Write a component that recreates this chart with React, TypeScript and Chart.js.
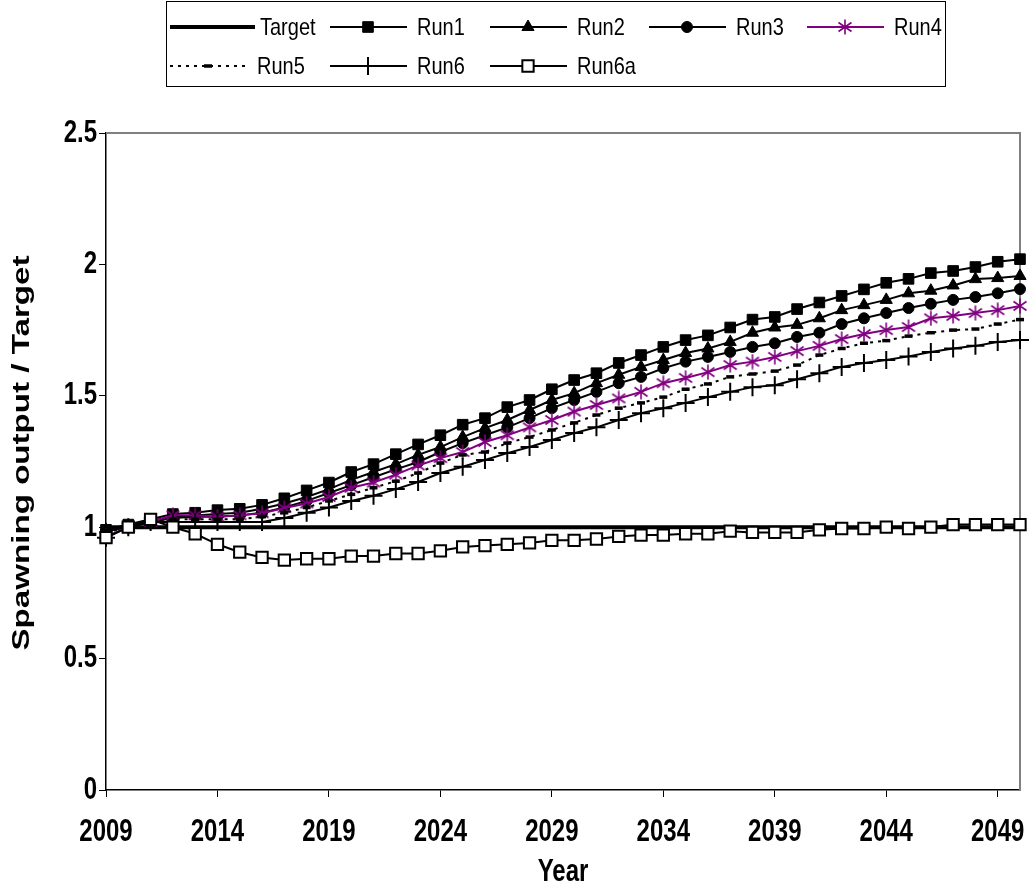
import React, { useEffect, useRef } from 'react';
import { Chart, registerables } from 'chart.js';
import { drawPoint } from 'chart.js/helpers';

Chart.register(...registerables);

const years = [
  2009, 2010, 2011, 2012, 2013, 2014, 2015, 2016, 2017, 2018, 2019, 2020, 2021, 2022,
  2023, 2024, 2025, 2026, 2027, 2028, 2029, 2030, 2031, 2032, 2033, 2034, 2035, 2036,
  2037, 2038, 2039, 2040, 2041, 2042, 2043, 2044, 2045, 2046, 2047, 2048, 2049, 2050,
];
const xTickYears = [2009, 2014, 2019, 2024, 2029, 2034, 2039, 2044, 2049];
const yTickValues = [0, 0.5, 1, 1.5, 2, 2.5];
const yTickLabels = ['0', '0.5', '1', '1.5', '2', '2.5'];

const target = [
  1, 1, 1, 1, 1, 1, 1, 1, 1, 1, 1, 1, 1, 1, 1, 1, 1, 1, 1, 1, 1,
  1, 1, 1, 1, 1, 1, 1, 1, 1, 1, 1, 1, 1, 1, 1, 1, 1, 1, 1, 1, 1,
];
const run1 = [
  0.99, 1.01, 1.03, 1.05, 1.055, 1.065, 1.07, 1.085, 1.11, 1.14, 1.17, 1.21, 1.24, 1.278,
  1.315, 1.35, 1.39, 1.415, 1.457, 1.484, 1.525, 1.56, 1.586, 1.625, 1.655, 1.686, 1.712, 1.73,
  1.76, 1.79, 1.8, 1.83, 1.855, 1.88, 1.905, 1.93, 1.945, 1.967, 1.975, 1.99, 2.01, 2.02,
];
const run2 = [
  0.99, 1.005, 1.025, 1.04, 1.045, 1.05, 1.055, 1.07, 1.09, 1.115, 1.145, 1.18, 1.21, 1.24,
  1.275, 1.305, 1.343, 1.377, 1.408, 1.446, 1.484, 1.51, 1.548, 1.58, 1.61, 1.636, 1.663, 1.68,
  1.705, 1.74, 1.76, 1.77, 1.795, 1.826, 1.845, 1.865, 1.89, 1.9, 1.92, 1.944, 1.948, 1.956,
];
const run3 = [
  0.985, 1.0, 1.02, 1.035, 1.04, 1.04, 1.045, 1.055, 1.075, 1.1, 1.13, 1.16, 1.19, 1.22,
  1.248, 1.286, 1.32, 1.35, 1.38, 1.415, 1.453, 1.484, 1.515, 1.548, 1.572, 1.605, 1.63, 1.648,
  1.667, 1.686, 1.7, 1.724, 1.74, 1.773, 1.795, 1.815, 1.834, 1.85, 1.865, 1.876, 1.89, 1.906,
];
const run4 = [
  0.965, 1.0, 1.02, 1.045, 1.045, 1.04, 1.045, 1.053, 1.073, 1.09, 1.115, 1.15, 1.17, 1.2,
  1.235, 1.263, 1.286, 1.324, 1.35, 1.38, 1.408, 1.44, 1.465, 1.49, 1.515, 1.548, 1.568, 1.59,
  1.617, 1.63, 1.648, 1.67, 1.69, 1.716, 1.735, 1.75, 1.762, 1.795, 1.804, 1.815, 1.826, 1.842,
];
const run5 = [
  0.98, 1.0, 1.02, 1.03, 1.03, 1.03, 1.03, 1.04, 1.055, 1.075, 1.1, 1.125, 1.15, 1.175,
  1.206, 1.244, 1.275, 1.286, 1.32, 1.343, 1.37, 1.397, 1.427, 1.453, 1.473, 1.495, 1.525, 1.545,
  1.572, 1.583, 1.594, 1.617, 1.655, 1.68, 1.7, 1.71, 1.727, 1.74, 1.75, 1.754, 1.773, 1.79,
];
const run6 = [
  0.96, 1.0, 1.02, 1.02, 1.02, 1.02, 1.02, 1.02, 1.035, 1.055, 1.075, 1.1, 1.12, 1.145,
  1.172, 1.206, 1.23, 1.256, 1.282, 1.305, 1.332, 1.358, 1.38, 1.408, 1.434, 1.453, 1.473, 1.495,
  1.515, 1.533, 1.54, 1.563, 1.586, 1.61, 1.625, 1.636, 1.65, 1.667, 1.68, 1.69, 1.705, 1.712,
];
const run6a = [
  0.96, 1.0, 1.03, 1.0, 0.975, 0.935, 0.905, 0.885, 0.875, 0.88, 0.88, 0.89, 0.89, 0.9,
  0.9, 0.91, 0.925, 0.93, 0.935, 0.94, 0.95, 0.95, 0.955, 0.965, 0.97, 0.97, 0.975, 0.975,
  0.985, 0.98, 0.98, 0.98, 0.99, 0.995, 0.995, 1.0, 0.995, 1.0, 1.01, 1.01, 1.01, 1.01,
];

const FONT = '"Liberation Sans", Arial, Helvetica, sans-serif';
const PURPLE = '#800080';
const STRETCH = 1.3;

function makeAsterisk(): HTMLCanvasElement {
  const c = document.createElement('canvas');
  c.width = 16;
  c.height = 16;
  const g = c.getContext('2d')!;
  g.strokeStyle = PURPLE;
  g.lineWidth = 1.6;
  g.beginPath();
  g.moveTo(8, 0.5);
  g.lineTo(8, 15.5);
  g.moveTo(1.5, 3.5);
  g.lineTo(14.5, 12.5);
  g.moveTo(1.5, 12.5);
  g.lineTo(14.5, 3.5);
  g.stroke();
  return c;
}

const pts = (vals: number[]) => vals.map((v, i) => ({ x: years[i], y: v }));

function stretchedText(
  ctx: CanvasRenderingContext2D,
  text: string,
  x: number,
  y: number,
  align: CanvasTextAlign,
  font: string,
  k: number,
  rotated = false,
) {
  ctx.save();
  ctx.translate(x, y);
  if (rotated) {
    ctx.rotate(-Math.PI / 2);
    ctx.scale(k, 1);
  } else {
    ctx.scale(1, k);
  }
  ctx.font = font;
  ctx.fillStyle = '#000';
  ctx.textAlign = align;
  ctx.textBaseline = 'middle';
  ctx.fillText(text, 0, 0);
  ctx.restore();
}

export default function App() {
  const ref = useRef<HTMLCanvasElement>(null);

  useEffect(() => {
    document.body.style.margin = '0';
    const asterisk = makeAsterisk();

    const datasets: any[] = [
      { label: 'Target', data: pts(target), borderColor: '#000', borderWidth: 4, pointRadius: 0, order: 7 },
      { label: 'Run1', data: pts(run1), borderColor: '#000', borderWidth: 2, pointStyle: 'rect', pointRadius: 7.5, pointBackgroundColor: '#000', pointBorderColor: '#000', pointBorderWidth: 1, order: 6 },
      { label: 'Run2', data: pts(run2), borderColor: '#000', borderWidth: 2, pointStyle: 'triangle', pointRadius: 7, pointBackgroundColor: '#000', pointBorderColor: '#000', pointBorderWidth: 1, order: 5 },
      { label: 'Run3', data: pts(run3), borderColor: '#000', borderWidth: 2, pointStyle: 'circle', pointRadius: 5.5, pointBackgroundColor: '#000', pointBorderColor: '#000', pointBorderWidth: 1, order: 4 },
      { label: 'Run4', data: pts(run4), borderColor: PURPLE, borderWidth: 2, pointStyle: asterisk, pointRadius: 8, order: 3 },
      { label: 'Run5', data: pts(run5), borderColor: '#000', borderWidth: 2, borderDash: [3, 5], pointStyle: 'line', pointRadius: 4, pointBorderColor: '#000', pointBorderWidth: 3.5, order: 2 },
      { label: 'Run6', data: pts(run6), borderColor: '#000', borderWidth: 2, pointStyle: 'cross', pointRadius: 9, pointBorderColor: '#000', pointBorderWidth: 2, order: 1 },
      { label: 'Run6a', data: pts(run6a), borderColor: '#000', borderWidth: 2, pointStyle: 'rect', pointRadius: 8, pointBackgroundColor: '#fff', pointBorderColor: '#000', pointBorderWidth: 2, order: 0 },
    ].map((d) => ({ ...d, clip: false }));

    const framePlugin = {
      id: 'frameAndLegend',
      beforeDatasetsDraw(chart: any) {
        const { ctx, chartArea } = chart;
        ctx.save();
        ctx.strokeStyle = '#808080';
        ctx.lineWidth = 2;
        ctx.beginPath();
        ctx.moveTo(chartArea.left, chartArea.top);
        ctx.lineTo(chartArea.right, chartArea.top);
        ctx.lineTo(chartArea.right, chartArea.bottom);
        ctx.stroke();
        ctx.restore();
      },
      afterDraw(chart: any) {
        const { ctx } = chart;
        const xs = chart.scales.x;
        const ys = chart.scales.y;
        const boldFont = `bold 24px ${FONT}`;

        // axis tick labels
        xTickYears.forEach((v) => {
          stretchedText(ctx, String(v), xs.getPixelForValue(v), 832, 'center', boldFont, STRETCH);
        });
        yTickValues.forEach((v, i) => {
          stretchedText(ctx, yTickLabels[i], 97, ys.getPixelForValue(v), 'right', boldFont, STRETCH);
        });
        // axis titles
        stretchedText(ctx, 'Year', (chart.chartArea.left + chart.chartArea.right) / 2, 872, 'center', boldFont, STRETCH);
        stretchedText(ctx, 'Spawning output / Target', 22, 453, 'center', boldFont, 1.38, true);

        // legend
        ctx.save();
        ctx.strokeStyle = '#000';
        ctx.lineWidth = 1;
        ctx.strokeRect(166.5, 1.5, 779, 85);
        const cols = [170, 330, 490, 649, 807];
        const rows = [27, 66];
        const layout = [
          [0, 0], [0, 1], [0, 2], [0, 3], [0, 4],
          [1, 0], [1, 1], [1, 2],
        ];
        chart.data.datasets.forEach((ds: any, i: number) => {
          const [r, c] = layout[i];
          const x0 = cols[c];
          const y = rows[r];
          const len = i === 0 ? 85 : 77;
          ctx.save();
          ctx.strokeStyle = ds.borderColor;
          ctx.lineWidth = ds.borderWidth;
          ctx.setLineDash(ds.borderDash || []);
          ctx.beginPath();
          ctx.moveTo(x0, y);
          ctx.lineTo(x0 + len, y);
          ctx.stroke();
          ctx.restore();
          if (ds.pointRadius > 0) {
            ctx.save();
            ctx.fillStyle = ds.pointBackgroundColor || ds.borderColor;
            ctx.strokeStyle = ds.pointBorderColor || ds.borderColor;
            ctx.lineWidth = ds.pointBorderWidth || 1;
            ctx.setLineDash([]);
            drawPoint(ctx, {
              pointStyle: ds.pointStyle,
              radius: ds.pointRadius,
              rotation: 0,
              borderWidth: ds.pointBorderWidth || 1,
            } as any, x0 + 38, y);
            ctx.restore();
          }
          stretchedText(ctx, ds.label, x0 + (i === 0 ? 90 : 87), y + 1, 'left', `20px ${FONT}`, 1.2);
        });
        ctx.restore();
      },
    };

    const chart = new Chart(ref.current!, {
      type: 'line',
      data: { datasets },
      plugins: [framePlugin],
      options: {
        animation: false,
        responsive: false,
        devicePixelRatio: 1,
        layout: { padding: { top: 133, right: 12, left: 0, bottom: 0 } },
        plugins: { legend: { display: false }, tooltip: { enabled: false } },
        elements: { line: { tension: 0 } },
        scales: {
          x: {
            type: 'linear',
            min: 2009,
            max: 2050,
            afterBuildTicks: (s: any) => {
              s.ticks = xTickYears.map((v) => ({ value: v }));
            },
            afterFit: (s: any) => {
              s.height = 98;
              s.paddingLeft = 0;
              s.paddingRight = 0;
            },
            grid: { drawOnChartArea: false, drawTicks: true, tickLength: 7, color: '#000', lineWidth: 1 },
            border: { display: true, color: '#000', width: 1.5 },
            ticks: { display: false, autoSkip: false, maxRotation: 0 },
            title: { display: false },
          },
          y: {
            min: 0,
            max: 2.5,
            afterBuildTicks: (s: any) => {
              s.ticks = yTickValues.map((v) => ({ value: v }));
            },
            afterFit: (s: any) => {
              s.width = 106;
              s.paddingTop = 0;
              s.paddingBottom = 0;
            },
            grid: { drawOnChartArea: false, drawTicks: true, tickLength: 7, color: '#000', lineWidth: 1 },
            border: { display: true, color: '#000', width: 1.5 },
            ticks: { display: false },
            title: { display: false },
          },
        },
      },
    });
    return () => chart.destroy();
  }, []);

  return (
    <div style={{ width: 1032, height: 888, background: '#fff' }}>
      <canvas ref={ref} width={1032} height={888} />
    </div>
  );
}
